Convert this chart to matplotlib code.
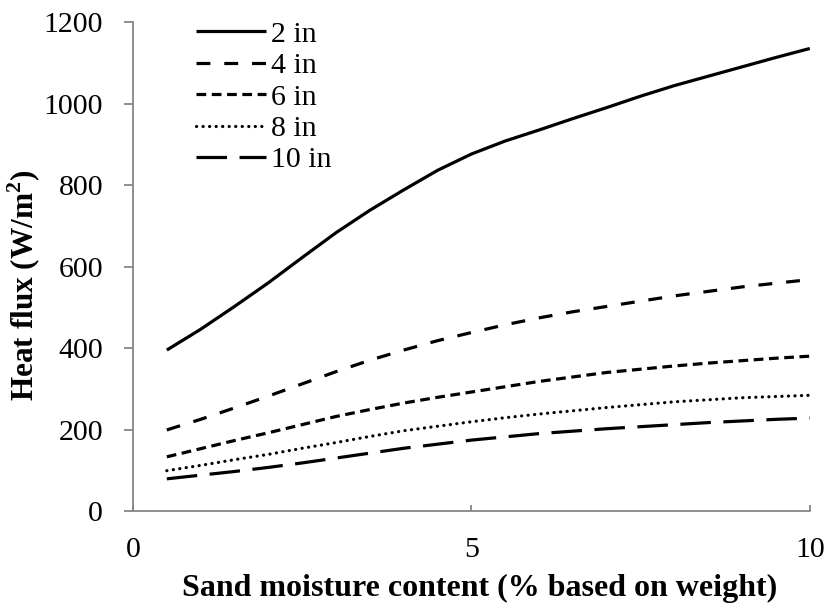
import matplotlib
matplotlib.use("Agg")
import matplotlib.pyplot as plt

plt.rcParams['font.family'] = ['Liberation Serif', 'DejaVu Serif']
plt.rcParams['lines.scale_dashes'] = False
plt.rcParams['mathtext.fontset'] = 'custom'
plt.rcParams['mathtext.rm'] = 'Liberation Serif'
plt.rcParams['mathtext.bf'] = 'Liberation Serif:bold'

moisture = [0.5, 1, 1.5, 2, 2.5, 3, 3.5, 4, 4.5, 5,
            5.5, 6, 6.5, 7, 7.5, 8, 8.5, 9, 9.5, 10]
flux_2in = [395, 446, 502, 560, 622, 683, 738, 788, 836, 876,
            908, 935, 963, 990, 1018, 1044, 1067, 1090, 1113, 1135]
flux_4in = [199, 225, 253, 282, 312, 342, 370, 395, 418, 438,
            457, 474, 489, 502, 515, 528, 539, 550, 559, 568]
flux_6in = [133, 153, 173, 192, 212, 232, 249, 265, 279, 292,
            305, 318, 329, 340, 348, 356, 363, 369, 375, 380]
flux_8in = [99, 112, 126, 139, 154, 168, 183, 197, 208, 219,
            229, 238, 246, 254, 261, 268, 273, 278, 281, 284]
flux_10in = [79, 88, 97, 107, 118, 130, 142, 154, 164, 174,
             182, 190, 196, 202, 207, 212, 217, 221, 225, 228]
labels = ['2 in', '4 in', '6 in', '8 in', '10 in']
x_ticks = [0, 5, 10]
y_ticks = [0, 200, 400, 600, 800, 1000, 1200]

fig = plt.figure(figsize=(8.28, 6.08), dpi=100)
ax = fig.add_axes([0.1606, 0.1595, 0.8174, 0.8043])

lw = 2.3
series = [flux_2in, flux_4in, flux_6in, flux_8in, flux_10in]
dashes = [None, (10, 10), (7, 4), (0.1, 4.6), (22, 9)]
for vals, lab, d in zip(series, labels, dashes):
    line, = ax.plot(moisture, vals, color='black', lw=lw, label=lab,
                    solid_capstyle='butt', solid_joinstyle='round')
    if d is not None:
        line.set_dashes(d)
        if d[0] < 1:
            line.set_dash_capstyle('round')
        else:
            line.set_dash_capstyle('butt')

ax.set_xlim(0, 10)
ax.set_ylim(0, 1200)
ax.set_xticks(x_ticks)
ax.set_yticks(y_ticks)

for s in ['top', 'right']:
    ax.spines[s].set_visible(False)
for s in ['left', 'bottom']:
    ax.spines[s].set_color('#868686')
    ax.spines[s].set_linewidth(1.3)

ax.tick_params(axis='y', direction='out', length=6.5, width=1.3, color='#868686',
               labelsize=21.5, pad=15)
ax.tick_params(axis='x', direction='in', length=4, width=1.3, color='#868686',
               labelsize=21.5, pad=19)

ax.set_xlabel('Sand moisture content (% based on weight)', fontsize=23,
              fontweight='bold')
ax.xaxis.set_label_coords(0.512, -0.129)
ax.set_ylabel('Heat flux (W/m$^\\mathbf{2}$)', fontsize=22.5, fontweight='bold')
ax.yaxis.set_label_coords(-0.133, 0.462)

leg = ax.legend(loc='upper left', bbox_to_anchor=(0.093, 1.002), frameon=False,
                fontsize=21.5, handlelength=2.35, handletextpad=0.15,
                labelspacing=0.15, borderaxespad=0, borderpad=0)

fig.savefig('out.png', dpi=100)
